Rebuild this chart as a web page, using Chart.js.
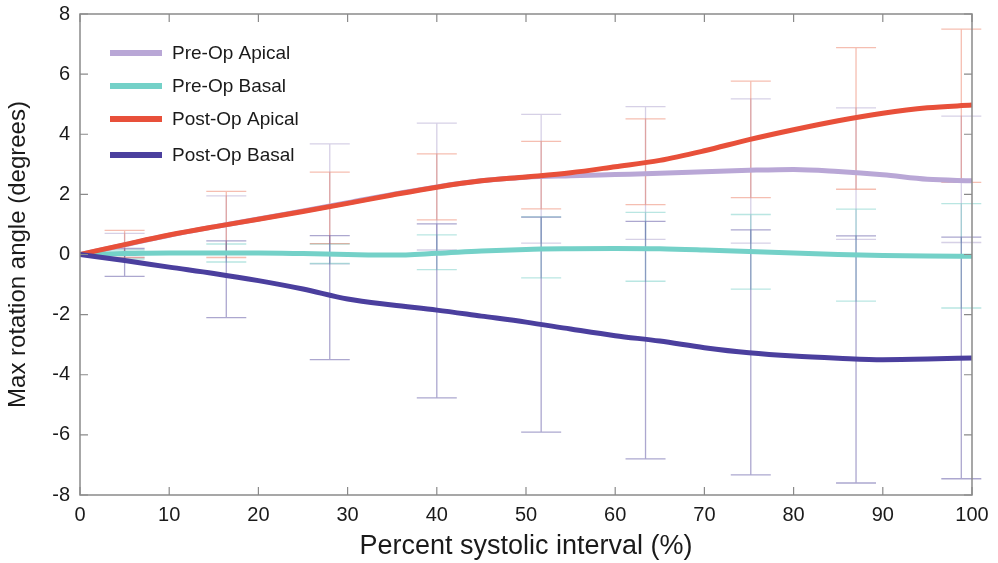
<!DOCTYPE html>
<html><head><meta charset="utf-8">
<script src="https://cdn.jsdelivr.net/npm/chart.js@4.4.1/dist/chart.umd.min.js"></script>
<style>html,body{margin:0;padding:0;background:#fff;}</style>
</head><body>
<canvas id="c" width="998" height="563"></canvas>
<script>
// ---- data ----
const seriesNames = ['Pre-Op Apical', 'Pre-Op Basal', 'Post-Op Apical', 'Post-Op Basal'];
const xValues = [0,5,10,15,20,25,30,35,40,45,50,55,60,65,70,75,80,85,90,95,100];
const preOpApical  = [0,0.32,0.64,0.92,1.18,1.45,1.72,2.0,2.25,2.45,2.57,2.62,2.66,2.7,2.75,2.8,2.83,2.76,2.65,2.5,2.45];
const preOpBasal   = [0,0.03,0.05,0.05,0.05,0.03,0.0,-0.02,0.04,0.12,0.17,0.19,0.2,0.19,0.15,0.1,0.05,0.0,-0.03,-0.05,-0.06];
const postOpApical = [0,0.33,0.65,0.92,1.17,1.43,1.7,1.98,2.24,2.45,2.58,2.72,2.92,3.13,3.45,3.82,4.15,4.45,4.7,4.88,4.97];
const postOpBasal  = [0,-0.2,-0.42,-0.63,-0.87,-1.15,-1.48,-1.68,-1.85,-2.05,-2.25,-2.48,-2.7,-2.88,-3.1,-3.27,-3.38,-3.45,-3.5,-3.48,-3.44];

// error bars: x positions and upper/lower limits
const errX = [5,16.4,28,40,51.7,63.4,75.2,87,98.8];
const preOpApicalHigh  = [0.7,1.95,3.68,4.37,4.66,4.92,5.18,4.88,4.6];
const preOpApicalLow   = [-0.1,0.05,-0.31,0.15,0.38,0.5,0.38,0.5,0.4];
const preOpBasalHigh   = [0.15,0.35,0.35,0.65,1.25,1.4,1.33,1.51,1.69];
const preOpBasalLow    = [-0.15,-0.25,-0.3,-0.5,-0.78,-0.89,-1.15,-1.55,-1.78];
const postOpApicalHigh = [0.8,2.1,2.74,3.35,3.76,4.51,5.77,6.88,7.5];
const postOpApicalLow  = [-0.1,-0.1,0.36,1.15,1.52,1.66,1.89,2.17,2.4];
const postOpBasalHigh  = [0.2,0.45,0.63,1.02,1.24,1.1,0.82,0.62,0.58];
const postOpBasalLow   = [-0.73,-2.1,-3.5,-4.77,-5.91,-6.8,-7.33,-7.6,-7.46];

const xTickValues = [0,10,20,30,40,50,60,70,80,90,100];
const yTickValues = [-8,-6,-4,-2,0,2,4,6,8];
const xTitle = 'Percent systolic interval (%)';
const yTitle = 'Max rotation angle (degrees)';

// ---- styles ----
const colors = ['#b9a7d6', '#74d1c8', '#e8503a', '#4b3f9e'];
const errColors = ['rgba(165,150,200,0.45)', 'rgba(100,200,190,0.45)', 'rgba(232,100,70,0.42)', 'rgba(90,80,160,0.5)'];
const FONT = "'Liberation Sans', Arial, sans-serif";

const means = [preOpApical, preOpBasal, postOpApical, postOpBasal];
const highs = [preOpApicalHigh, preOpBasalHigh, postOpApicalHigh, postOpBasalHigh];
const lows = [preOpApicalLow, preOpBasalLow, postOpApicalLow, postOpBasalLow];

const datasets = seriesNames.map((name, k) => ({
  label: name,
  data: xValues.map((x, i) => ({x: x, y: means[k][i]})),
  borderColor: colors[k],
  backgroundColor: colors[k],
  borderWidth: 5,
  pointRadius: 0,
  cubicInterpolationMode: 'monotone',
  fill: false,
  order: [3,2,1,0][k]
}));

const errorBarPlugin = {
  id: 'errorBars',
  beforeDatasetsDraw(chart) {
    const {ctx, scales: {x, y}} = chart;
    ctx.save();
    ctx.lineWidth = 1.3;
    const cap = 20;
    for (let k = 0; k < seriesNames.length; k++) {
      ctx.strokeStyle = errColors[k];
      for (let i = 0; i < errX.length; i++) {
        const px = x.getPixelForValue(errX[i]);
        const ph = y.getPixelForValue(highs[k][i]);
        const pl = y.getPixelForValue(lows[k][i]);
        ctx.beginPath();
        ctx.moveTo(px, ph); ctx.lineTo(px, pl);
        ctx.moveTo(px - cap, ph); ctx.lineTo(px + cap, ph);
        ctx.moveTo(px - cap, pl); ctx.lineTo(px + cap, pl);
        ctx.stroke();
      }
    }
    ctx.restore();
  }
};

const boxPlugin = {
  id: 'boxTicks',
  afterDatasetsDraw(chart) {
    const {ctx, chartArea: a, scales: {x, y}} = chart;
    ctx.save();
    ctx.strokeStyle = '#8a8a8a';
    ctx.lineWidth = 1.5;
    ctx.strokeRect(a.left, a.top, a.right - a.left, a.bottom - a.top);
    const L = 8;
    ctx.lineWidth = 1.2;
    ctx.beginPath();
    xTickValues.forEach(v => {
      const px = x.getPixelForValue(v);
      ctx.moveTo(px, a.bottom); ctx.lineTo(px, a.bottom - L);
      ctx.moveTo(px, a.top); ctx.lineTo(px, a.top + L);
    });
    yTickValues.forEach(v => {
      const py = y.getPixelForValue(v);
      ctx.moveTo(a.left, py); ctx.lineTo(a.left + L, py);
      ctx.moveTo(a.right, py); ctx.lineTo(a.right - L, py);
    });
    ctx.stroke();
    ctx.restore();
  }
};

const legendPlugin = {
  id: 'insideLegend',
  afterDraw(chart) {
    const {ctx} = chart;
    ctx.save();
    ctx.font = '19px ' + FONT;
    ctx.textBaseline = 'middle';
    ctx.textAlign = 'left';
    const rows = [53, 86, 119, 155];
    chart.data.datasets.forEach((ds, k) => {
      const yy = rows[k];
      ctx.strokeStyle = ds.borderColor;
      ctx.lineWidth = 6;
      ctx.beginPath();
      ctx.moveTo(110, yy); ctx.lineTo(162, yy);
      ctx.stroke();
      ctx.fillStyle = '#1a1a1a';
      ctx.fillText(ds.label, 172, yy + 1);
    });
    ctx.restore();
  }
};

new Chart(document.getElementById('c'), {
  type: 'line',
  data: {datasets},
  options: {
    responsive: false,
    animation: false,
    devicePixelRatio: 1,
    layout: {padding: {left: 0, top: 14, right: 26, bottom: 0}},
    plugins: {legend: {display: false}, tooltip: {enabled: false}},
    scales: {
      x: {
        type: 'linear', min: 0, max: 100,
        afterBuildTicks: s => { s.ticks = xTickValues.map(v => ({value: v})); },
        afterFit: s => { s.height = 68; },
        grid: {display: false},
        border: {display: false},
        ticks: {font: {family: FONT, size: 20}, color: '#1a1a1a', padding: 0, maxRotation: 0, autoSkip: false},
        title: {display: true, text: xTitle, font: {family: FONT, size: 27}, color: '#1a1a1a', padding: {top: 0, bottom: 0}}
      },
      y: {
        type: 'linear', min: -8, max: 8,
        afterBuildTicks: s => { s.ticks = yTickValues.map(v => ({value: v})); },
        afterFit: s => { s.width = 80; },
        grid: {display: false},
        border: {display: false},
        ticks: {font: {family: FONT, size: 20}, color: '#1a1a1a', padding: 2, autoSkip: false},
        title: {display: true, text: yTitle, font: {family: FONT, size: 24}, color: '#1a1a1a', padding: {top: 4, bottom: 0}}
      }
    }
  },
  plugins: [errorBarPlugin, boxPlugin, legendPlugin]
});
</script>
</body></html>
